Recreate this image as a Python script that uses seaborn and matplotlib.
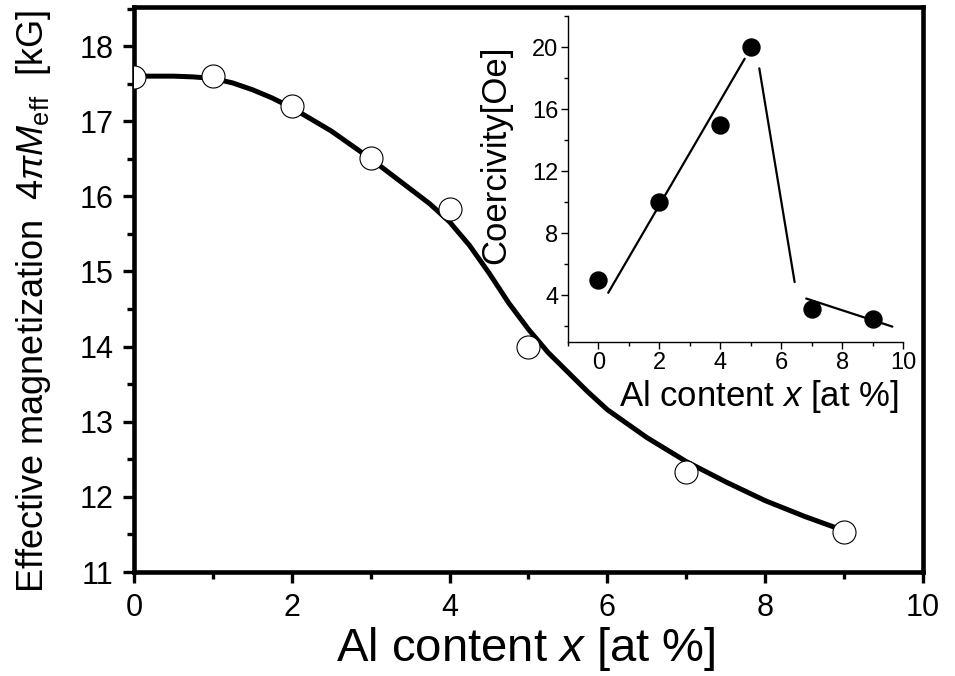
import numpy as np
import pandas as pd
import seaborn as sns
import matplotlib
matplotlib.use('Agg')
import matplotlib.pyplot as plt
from matplotlib.ticker import MultipleLocator

# ---- main panel data ----
al_x = [0, 1, 2, 3, 4, 5, 7, 9]
mag = [17.59, 17.60, 17.20, 16.51, 15.83, 14.00, 12.33, 11.53]

# fitted curve
fit_x = [0, 0.5, 0.75, 1.0, 1.25, 1.5, 1.75, 2.0, 2.5, 3.0, 3.5, 3.75, 4.0, 4.25, 4.5,
         4.75, 5.0, 5.25, 5.5, 5.75, 6.0, 6.5, 7.0, 7.5, 8.0, 8.5, 9.0]
fit_y = [17.60, 17.60, 17.59, 17.57, 17.51, 17.42, 17.31, 17.18, 16.87, 16.50, 16.10, 15.90,
         15.66, 15.35, 14.98, 14.58, 14.23, 13.92, 13.66, 13.40, 13.16, 12.79, 12.47, 12.20,
         11.95, 11.74, 11.55]

# ---- inset data ----
coer_x = [0, 2, 4, 5, 7, 9]
coer = [5.0, 10.0, 15.0, 20.0, 3.15, 2.5]

seg1_x = [0.32, 4.80]
seg1_y = [4.17, 19.25]
seg2_x = [5.28, 6.44]
seg2_y = [18.63, 4.86]
seg3_x = [6.82, 9.65]
seg3_y = [3.80, 1.99]

main_xticks = [0, 2, 4, 6, 8, 10]
main_yticks = [11, 12, 13, 14, 15, 16, 17, 18]
inset_xticks = [0, 2, 4, 6, 8, 10]
inset_yticks = [4, 8, 12, 16, 20]

sns.set_theme(style='ticks')
plt.rcParams['font.family'] = ['Liberation Sans', 'DejaVu Sans']
plt.rcParams['mathtext.fontset'] = 'custom'
plt.rcParams['mathtext.rm'] = 'Liberation Sans'
plt.rcParams['mathtext.it'] = 'Liberation Sans:italic'
plt.rcParams['mathtext.bf'] = 'Liberation Sans:bold'
for k in ['text.color', 'axes.labelcolor', 'xtick.color', 'ytick.color',
          'xtick.labelcolor', 'ytick.labelcolor', 'axes.edgecolor']:
    plt.rcParams[k] = 'black'

fig = plt.figure(figsize=(9.55, 6.76), dpi=100)
ax = fig.add_axes([0.1403, 0.1538, 0.8262, 0.8358])

sns.lineplot(x=fit_x, y=fit_y, ax=ax, color='black', lw=3.6, sort=False, estimator=None, zorder=2)
sns.scatterplot(x=al_x, y=mag, ax=ax, marker='o', s=275, facecolor='white',
                edgecolor='black', linewidth=0.8, zorder=3)

ax.set_xlim(0, 10)
ax.set_ylim(11, 18.52)
ax.set_xticks(main_xticks)
ax.set_yticks(main_yticks)
ax.set_xticklabels([str(t) for t in main_xticks])
ax.set_yticklabels([str(t) for t in main_yticks])
ax.xaxis.set_minor_locator(MultipleLocator(1))
ax.yaxis.set_minor_locator(MultipleLocator(0.5))
ax.tick_params(which='both', direction='out', width=2.4, color='black', top=False, right=False)
ax.tick_params(which='major', length=8, labelsize=22, pad=7)
ax.tick_params(which='minor', length=5)
for s in ax.spines.values():
    s.set_visible(True)
    s.set_linewidth(3.3)
    s.set_color('black')
ax.set_xlabel(r'Al content $x$ [at %]', fontsize=34)
ax.xaxis.set_label_coords(0.497, -0.093)
ax.set_ylabel(r'Effective magnetization  $\mathit{4}\pi M_{\mathrm{eff}}$  [kG]', fontsize=26)
ax.yaxis.set_label_coords(-0.103, 0.478)

# ---- inset ----
axi = fig.add_axes([0.5948, 0.4941, 0.3508, 0.4822])
axi.patch.set_alpha(0)
sns.scatterplot(x=coer_x, y=coer, ax=axi, marker='o', s=150, color='black', edgecolor='black', zorder=3)
for sx, sy in [(seg1_x, seg1_y), (seg2_x, seg2_y), (seg3_x, seg3_y)]:
    sns.lineplot(x=sx, y=sy, ax=axi, color='black', lw=1.6, sort=False, estimator=None)
axi.set_xlim(-1, 10)
axi.set_ylim(1, 22)
axi.set_xticks(inset_xticks)
axi.set_yticks(inset_yticks)
axi.xaxis.set_minor_locator(MultipleLocator(1))
axi.yaxis.set_minor_locator(MultipleLocator(2))
axi.tick_params(which='both', direction='out', width=1, color='black')
axi.tick_params(which='major', length=5, labelsize=17, pad=2)
axi.tick_params(which='minor', length=3)
axi.spines['top'].set_visible(False)
axi.spines['right'].set_visible(False)
for k in ['left', 'bottom']:
    axi.spines[k].set_linewidth(1.0)
    axi.spines[k].set_color('black')
axi.set_xlabel(r'Al content $x$ [at %]', fontsize=25)
axi.xaxis.set_label_coords(0.570, -0.112)
axi.set_ylabel('Coercivity[Oe]', fontsize=25)
axi.yaxis.set_label_coords(-0.167, 0.574)

fig.savefig('out.png', dpi=100)
